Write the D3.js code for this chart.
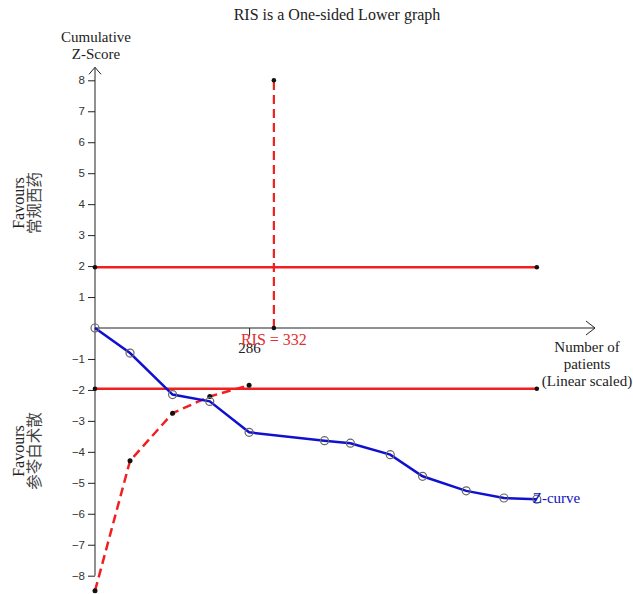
<!DOCTYPE html>
<html>
<head>
<meta charset="utf-8">
<script src="https://cdn.jsdelivr.net/npm/d3@7"></script>
<style>
  body { margin: 0; background: #fff; }
  svg { display: block; }
</style>
</head>
<body>
<div id="chart"></div>
<script>
// Z-curve (cumulative z-score by number of patients)
var patients = [0, 65, 144, 213, 286, 426, 474, 548, 608, 689, 759, 820];
var zCurve = [0, -0.81, -2.15, -2.37, -3.37, -3.64, -3.72, -4.09, -4.79, -5.26, -5.49, -5.53];

// lower monitoring boundary (red dashed)
var boundaryN = [0, 65, 144, 213, 286];
var boundaryZ = [-8.49, -4.29, -2.75, -2.21, -1.85];

var ris = 332;
var risZ = [0, 8];
var conventional = [1.96, -1.96];
var conventionalEnd = 820;

var yTicks = [8, 7, 6, 5, 4, 3, 2, 1, -1, -2, -3, -4, -5, -6, -7, -8];
var xTicks = [286];

var w = 633,
  h = 594,
  serif = "'Liberation Serif', 'Times New Roman', serif",
  sans = "'Liberation Sans', Arial, sans-serif";

var x = d3.scaleLinear().domain([0, 928]).range([95, 595]);
var y = d3.scaleLinear().domain([-8, 8]).range([575.7, 80.3]);

var chart = d3.select("#chart").
append("svg").
attr("width", w).
attr("height", h).
attr("style", "background-color: white;");

// title
chart.append("text").
attr("x", 337).
attr("y", 20).
attr("text-anchor", "middle").
attr("font-family", serif).
attr("font-size", 16).
attr("fill", "#222").
text("RIS is a One-sided Lower graph");

// y axis
var yAxis = d3.axisLeft(y).tickValues(yTicks).tickSize(7).tickPadding(3);
var yG = chart.append("g").
attr("transform", "translate(" + x(0) + ",0)").
call(yAxis);
yG.select(".domain").remove();
yG.selectAll("text").attr("font-family", sans).attr("font-size", 11.5).attr("fill", "#333");
yG.selectAll("line").attr("stroke", "#222");

var yTop = y(8) - 13;
chart.append("line").
attr("x1", x(0)).attr("x2", x(0)).
attr("y1", y(-8)).attr("y2", yTop).
attr("stroke", "#222");
chart.append("path").
attr("d", "M" + (x(0) - 6) + "," + (yTop + 7) + "L" + x(0) + "," + yTop + "L" + (x(0) + 6) + "," + (yTop + 7)).
attr("fill", "none").
attr("stroke", "#222");

// x axis
var xEnd = x.range()[1];
chart.append("line").
attr("x1", x(0)).attr("x2", xEnd).
attr("y1", y(0)).attr("y2", y(0)).
attr("stroke", "#222");
chart.append("path").
attr("d", "M" + (xEnd - 9) + "," + (y(0) - 7) + "L" + xEnd + "," + y(0) + "L" + (xEnd - 9) + "," + (y(0) + 7)).
attr("fill", "none").
attr("stroke", "#222");

var xAxis = d3.axisBottom(x).tickValues(xTicks).tickSize(8).tickPadding(4);
var xG = chart.append("g").
attr("transform", "translate(0," + y(0) + ")").
call(xAxis);
xG.select(".domain").remove();
xG.selectAll("line").attr("stroke", "#222");
xG.selectAll("text").attr("font-family", serif).attr("font-size", 15).attr("fill", "#222").attr("dy", "0.85em");

// axis titles
var yTitle = chart.append("text").
attr("text-anchor", "middle").
attr("font-family", serif).
attr("font-size", 15).
attr("fill", "#222");
yTitle.append("tspan").attr("x", 96).attr("y", 42).text("Cumulative");
yTitle.append("tspan").attr("x", 96).attr("y", 59).text("Z-Score");

var xTitle = chart.append("text").
attr("text-anchor", "middle").
attr("font-family", serif).
attr("font-size", 15).
attr("fill", "#222");
xTitle.append("tspan").attr("x", 587).attr("y", 352).text("Number of");
xTitle.append("tspan").attr("x", 587).attr("y", 369).text("patients");
xTitle.append("tspan").attr("x", 587).attr("y", 386).text("(Linear scaled)");

function favours(cy, label) {
  var t = chart.append("text").
  attr("transform", "translate(24," + cy + ") rotate(-90)").
  attr("text-anchor", "middle").
  attr("font-family", serif).
  attr("font-size", 16).
  attr("fill", "#222");
  t.append("tspan").attr("x", 0).attr("y", 0).text("Favours");
  t.append("tspan").attr("x", 0).attr("y", 16).
  attr("font-family", "'Noto Sans CJK SC', serif").
  attr("font-size", 15.5).
  attr("fill", "#444").
  text(label);
}
favours(203, "常规西药");
favours(451, "参苓白术散");

// conventional boundaries +/-1.96
conventional.forEach(function(z) {
  chart.append("line").
  attr("x1", x(0)).attr("x2", x(conventionalEnd)).
  attr("y1", y(z)).attr("y2", y(z)).
  attr("stroke", "#f02020").
  attr("stroke-width", 2.5);
  [0, conventionalEnd].forEach(function(n) {
    chart.append("circle").
    attr("cx", x(n)).attr("cy", y(z)).attr("r", 2.3).attr("fill", "#111");
  });
});

// RIS vertical line
chart.append("line").
attr("x1", x(ris)).attr("x2", x(ris)).
attr("y1", y(risZ[0])).attr("y2", y(risZ[1])).
attr("stroke", "#f02020").
attr("stroke-width", 2.2).
attr("stroke-dasharray", "9,5");
risZ.forEach(function(z) {
  chart.append("circle").
  attr("cx", x(ris)).attr("cy", y(z)).attr("r", 2.3).attr("fill", "#111");
});

// boundary dashed curve
var bLine = d3.line()
  .x(function(d, i) { return x(boundaryN[i]); })
  .y(function(d) { return y(d); });

chart.append("path").
attr("d", bLine(boundaryZ)).
attr("fill", "none").
attr("stroke", "#f02020").
attr("stroke-width", 2.5).
attr("stroke-dasharray", "9,5");

chart.selectAll(".bdot").
data(boundaryZ).
enter().
append("circle").
attr("class", "bdot").
attr("cx", function(d, i) { return x(boundaryN[i]); }).
attr("cy", function(d) { return y(d); }).
attr("r", 2.5).
attr("fill", "#111");

// z-curve
var zLine = d3.line()
  .x(function(d, i) { return x(patients[i]); })
  .y(function(d) { return y(d); });

chart.append("path").
attr("d", zLine(zCurve)).
attr("fill", "none").
attr("stroke", "#1010d0").
attr("stroke-width", 2.5);

chart.selectAll(".zdot").
data(zCurve).
enter().
append("circle").
attr("class", "zdot").
attr("cx", function(d, i) { return x(patients[i]); }).
attr("cy", function(d) { return y(d); }).
attr("r", 4).
attr("fill", "none").
attr("stroke", "#666").
attr("stroke-width", 1.2);

// labels
chart.append("text").
attr("x", x(ris)).
attr("y", y(0) + 17).
attr("text-anchor", "middle").
attr("font-family", serif).
attr("font-size", 16).
attr("fill", "#e03030").
text("RIS = " + ris);

chart.append("text").
attr("x", x(patients[patients.length - 1]) - 4).
attr("y", y(zCurve[zCurve.length - 1]) + 4).
attr("font-family", serif).
attr("font-size", 15).
attr("fill", "#1010c0").
text("Z-curve");
</script>
</body>
</html>
